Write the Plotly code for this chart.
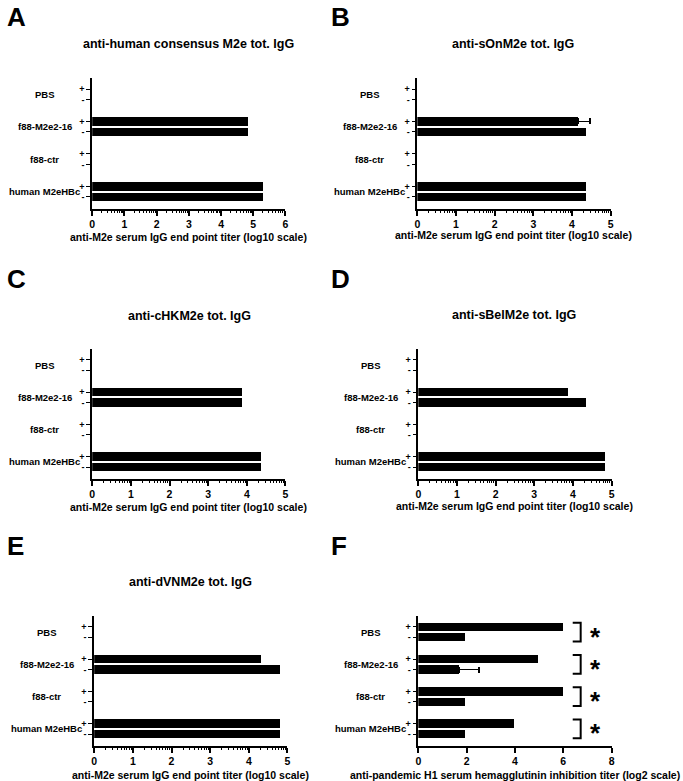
import plotly.graph_objects as go
import numpy as np

W, H = 683, 781
FONT = "Liberation Sans, Arial, sans-serif"

groups = ["PBS", "f88-M2e2-16", "f88-ctr", "human M2eHBc"]
signs = ["+", "-"]

# values: (+ bar, - bar) per group
A_plus = [0, 4.83, 0, 5.30]
A_minus = [0, 4.83, 0, 5.30]
B_plus = [0, 4.17, 0, 4.36]
B_minus = [0, 4.36, 0, 4.36]
B_plus_err = [None, 0.29, None, None]
C_plus = [0, 3.88, 0, 4.37]
C_minus = [0, 3.88, 0, 4.37]
D_plus = [0, 3.87, 0, 4.83]
D_minus = [0, 4.34, 0, 4.83]
E_plus = [0, 4.33, 0, 4.82]
E_minus = [0, 4.82, 0, 4.82]
F_plus = [6, 4.95, 6, 3.96]
F_minus = [1.95, 1.71, 1.95, 1.95]
F_minus_err = [None, 0.79, None, None]

titles = ["anti-human consensus M2e tot. IgG", "anti-sOnM2e tot. IgG",
          "anti-cHKM2e tot. IgG", "anti-sBelM2e tot. IgG", "anti-dVNM2e tot. IgG", ""]
letters = ["A", "B", "C", "D", "E", "F"]
xtitle_igg = "anti-M2e serum IgG end point titer (log10 scale)"
xtitle_hi = "anti-pandemic H1 serum hemagglutinin inhibition titer (log2 scale)"

panels = [
    dict(plus=A_plus, minus=A_minus, pe=None, me=None, xmax=6, dtick=1, minor=True,
         dom=(90, 285, 78, 209), title_xy=(187, 44), letter_xy=(2, 0), xt=xtitle_igg, xt_y=237),
    dict(plus=B_plus, minus=B_minus, pe=B_plus_err, me=None, xmax=5, dtick=1, minor=True,
         dom=(418, 613, 78, 209), title_xy=(515, 44), letter_xy=(329, 0), xt=xtitle_igg, xt_y=235),
    dict(plus=C_plus, minus=C_minus, pe=None, me=None, xmax=5, dtick=1, minor=True,
         dom=(90, 285, 349, 479), title_xy=(188, 316), letter_xy=(2, 262), xt=xtitle_igg, xt_y=507),
    dict(plus=D_plus, minus=D_minus, pe=None, me=None, xmax=5, dtick=1, minor=True,
         dom=(419, 614, 349, 479), title_xy=(516, 315), letter_xy=(329, 262), xt=xtitle_igg, xt_y=506),
    dict(plus=E_plus, minus=E_minus, pe=None, me=None, xmax=5, dtick=1, minor=True,
         dom=(92, 287, 616, 746), title_xy=(189, 582), letter_xy=(2, 529), xt=xtitle_igg, xt_y=775),
    dict(plus=F_plus, minus=F_minus, pe=None, me=F_minus_err, xmax=8, dtick=2, minor=False,
         dom=(419, 614, 616, 746), title_xy=(516, 582), letter_xy=(329, 529), xt=xtitle_hi, xt_y=775),
]

PERIOD = 3.1
pos_plus = [i * PERIOD for i in range(len(groups))]
pos_minus = [p + 1 for p in pos_plus]
YR = [pos_minus[-1] + 1.15, pos_plus[0] - 1.05]


def px(x):
    return x / W


def py(y):
    return 1 - y / H


fig = go.Figure()
annotations = []
shapes = []
layout = {}

for i, p in enumerate(panels):
    n = i + 1
    xa = "x" if n == 1 else f"x{n}"
    ya = "y" if n == 1 else f"y{n}"
    xkey = "xaxis" if n == 1 else f"xaxis{n}"
    ykey = "yaxis" if n == 1 else f"yaxis{n}"
    x0, x1, y0, y1 = p["dom"]

    ys, xs, errs = [], [], []
    for g in range(len(groups)):
        ys += [pos_plus[g], pos_minus[g]]
        xs += [p["plus"][g], p["minus"][g]]
        pe = p["pe"][g] if p["pe"] else None
        me = p["me"][g] if p["me"] else None
        errs += [pe, me]

    # bars without error bars
    nx = [x for x, e in zip(xs, errs) if e is None]
    ny = [y for y, e in zip(ys, errs) if e is None]
    fig.add_trace(go.Bar(
        x=nx, y=ny, orientation="h", width=0.8,
        marker=dict(color="black", line=dict(width=0)),
        xaxis=xa, yaxis=ya, showlegend=False, hoverinfo="skip"))
    # bars with (one-sided) error bars
    ex = [x for x, e in zip(xs, errs) if e is not None]
    if ex:
        ey = [y for y, e in zip(ys, errs) if e is not None]
        ee = [e for e in errs if e is not None]
        fig.add_trace(go.Bar(
            x=ex, y=ey, orientation="h", width=0.8,
            marker=dict(color="black", line=dict(width=0)),
            error_x=dict(type="data", symmetric=False, array=ee, arrayminus=[0] * len(ee),
                         color="black", thickness=1.6, width=3),
            xaxis=xa, yaxis=ya, showlegend=False, hoverinfo="skip"))

    minor = None
    if p["minor"]:
        mv = [d + np.log10(k) for d in range(p["xmax"]) for k in range(2, 10)]
        minor = dict(tickmode="array", tickvals=mv, ticklen=2.5, tickwidth=1,
                     tickcolor="black", ticks="outside")
    xaxis = dict(
        domain=[px(x0), px(x1)], anchor=ya, range=[0, p["xmax"]],
        tickmode="linear", tick0=0, dtick=p["dtick"],
        showline=True, linecolor="black", linewidth=1.6,
        ticks="outside", ticklen=5, tickwidth=1.6, tickcolor="black",
        showgrid=False, zeroline=False, fixedrange=True,
        tickfont=dict(family=FONT, size=10.5, color="black", weight="bold"),
    )
    if minor:
        xaxis["minor"] = minor
    layout[xkey] = xaxis
    layout[ykey] = dict(
        domain=[py(y1), py(y0)], anchor=xa, range=YR,
        tickmode="array", tickvals=ys,
        ticktext=[s for _ in groups for s in signs],
        showline=True, linecolor="black", linewidth=1.6,
        ticks="outside", ticklen=4, tickwidth=1.4, tickcolor="black",
        showgrid=False, zeroline=False, fixedrange=True,
        tickfont=dict(family=FONT, size=9, color="black", weight="bold"),
    )

    # group labels
    for g, name in enumerate(groups):
        annotations.append(dict(
            text=name, xref="paper", x=px(x0 - 48), yref=ya, y=pos_plus[g] + 0.5,
            xanchor="center", yanchor="middle", showarrow=False,
            font=dict(family=FONT, size=9.5, color="black", weight="bold")))

    # title
    if titles[i]:
        annotations.append(dict(
            text=titles[i], xref="paper", yref="paper",
            x=px(p["title_xy"][0]), y=py(p["title_xy"][1]),
            xanchor="center", yanchor="middle", showarrow=False,
            font=dict(family=FONT, size=12.5, color="black", weight="bold")))
    # x title
    annotations.append(dict(
        text=p["xt"], xref="paper", yref="paper",
        x=px((x0 + x1) / 2), y=py(p["xt_y"]),
        xanchor="center", yanchor="middle", showarrow=False,
        font=dict(family=FONT, size=10.5, color="black", weight="bold")))
    # panel letter
    annotations.append(dict(
        text=letters[i], xref="paper", yref="paper",
        x=px(p["letter_xy"][0]), y=py(p["letter_xy"][1]),
        xanchor="left", yanchor="top", showarrow=False,
        font=dict(family=FONT, size=26, color="black", weight="bold")))

# significance brackets + asterisks in panel F
for g in range(len(groups)):
    yt = pos_plus[g] - 0.4
    yb = pos_minus[g] + 0.4
    shapes.append(dict(type="path", xref="x6", yref="y6",
                       path=f"M 6.39 {yt} L 6.72 {yt} L 6.72 {yb} L 6.39 {yb}",
                       line=dict(color="black", width=2)))
    annotations.append(dict(
        text="*", xref="x6", yref="y6", x=7.35, y=pos_plus[g] + 0.5,
        xanchor="center", yanchor="middle", yshift=-4.5, showarrow=False,
        font=dict(family=FONT, size=26, color="black", weight="bold")))

fig.update_layout(
    width=W, height=H, margin=dict(l=0, r=0, t=0, b=0),
    paper_bgcolor="white", plot_bgcolor="white",
    annotations=annotations, shapes=shapes, bargap=0, barmode="overlay", **layout,
)
fig.write_html("out.html", config={"displayModeBar": False},
               post_script="document.body.style.margin='0px';document.body.style.padding='0px';")
